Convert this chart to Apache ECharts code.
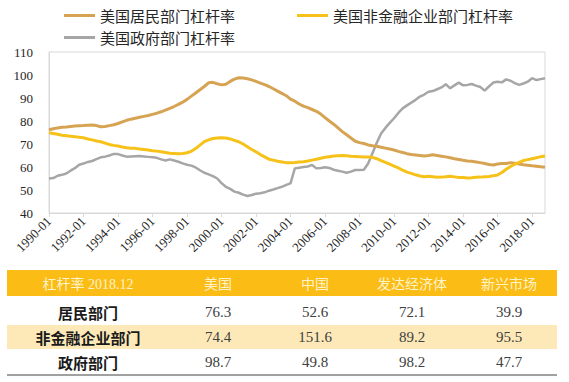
<!DOCTYPE html>
<html>
<head>
<meta charset="utf-8">
<script src="https://cdn.jsdelivr.net/npm/echarts@6/dist/echarts.min.js"></script>
<style>
  html, body { margin: 0; padding: 0; background: #ffffff; }
  #chart { width: 569px; height: 382px; }
</style>
</head>
<body>
<div id="chart"></div>
<script>
// ---- data ----
const startYear = 1990;
const endYear = 2018;
const quarterMonths = ['01', '04', '07', '10'];

const seriesNames = ['美国居民部门杠杆率', '美国非金融企业部门杠杆率', '美国政府部门杠杆率'];

// 美国居民部门杠杆率 (quarterly, 1990Q1 - 2018Q4)
const householdLeverage = [
  76.2, 76.6, 77.0, 77.3,
  77.4, 77.6, 77.8, 77.9,
  78.0, 78.2, 78.3, 78.0,
  77.5, 77.6, 78.0, 78.4,
  78.9, 79.6, 80.3, 80.8,
  81.2, 81.6, 82.0, 82.4,
  82.9, 83.4, 84.0, 84.7,
  85.5, 86.3, 87.2, 88.2,
  89.4, 90.8, 92.2, 93.6,
  95.0, 96.6, 96.8, 96.2,
  95.7, 96.0, 97.2, 98.2,
  98.8, 98.7, 98.4, 97.9,
  97.2, 96.5, 95.8, 95.0,
  94.0, 93.0, 92.0, 91.0,
  89.5, 88.6, 87.4, 86.5,
  85.8, 85.0, 84.2, 83.0,
  81.5, 80.0, 78.6, 77.0,
  75.4, 74.0, 72.6, 71.2,
  70.6, 70.2, 69.6, 69.2,
  69.0, 68.6, 68.2, 67.8,
  67.4, 66.8, 66.3, 65.8,
  65.4, 65.2, 65.0, 64.8,
  65.0, 65.3, 65.0, 64.7,
  64.4, 64.0, 63.6, 63.3,
  62.9, 62.6, 62.5, 62.2,
  61.9, 61.5, 61.1, 60.9,
  61.3, 61.5, 61.5, 61.9,
  61.6, 61.3, 61.0, 60.8,
  60.5, 60.3, 60.1, 59.9
];

// 美国非金融企业部门杠杆率
const corporateLeverage = [
  74.9, 74.6, 74.2, 73.8,
  73.6, 73.4, 73.2, 72.9,
  72.7, 72.2, 71.8, 71.3,
  71.0, 70.4, 69.8, 69.4,
  69.1, 68.7, 68.4, 68.2,
  68.1, 67.8, 67.6, 67.4,
  67.1, 66.9, 66.6, 66.3,
  66.0, 65.9, 65.8, 65.9,
  66.2, 66.8, 68.0, 69.5,
  71.0, 71.8, 72.4, 72.6,
  72.7, 72.6, 72.2, 71.6,
  71.0, 70.0, 68.8, 67.6,
  66.6, 65.4, 64.4, 63.4,
  63.0, 62.5, 62.2, 61.9,
  61.9, 62.0, 62.2, 62.3,
  62.6, 63.0, 63.4, 63.8,
  64.2, 64.5, 64.8, 64.9,
  65.0, 64.9, 64.7, 64.6,
  64.5, 64.4, 64.3, 64.2,
  63.6, 62.8, 62.0, 61.2,
  60.4, 59.6, 58.6, 57.8,
  57.2, 56.6, 56.1, 55.8,
  56.0, 55.8, 55.5, 55.6,
  55.8, 56.0, 55.7, 55.4,
  55.4, 55.2, 55.3, 55.5,
  55.6, 55.8, 55.9, 56.2,
  56.5, 57.6, 59.0, 60.2,
  61.2, 62.0, 62.8, 63.2,
  63.6, 64.0, 64.5, 64.8
];

// 美国政府部门杠杆率
const governmentLeverage = [
  55.0, 55.2, 56.2, 56.6,
  57.2, 58.4, 59.5, 61.0,
  61.5, 62.2, 62.6, 63.4,
  64.2, 64.5, 65.0, 65.7,
  65.6, 65.0, 64.5, 64.6,
  64.7, 64.8, 64.6, 64.4,
  64.2, 64.0, 63.3, 62.8,
  63.3, 62.8, 62.3, 61.6,
  61.0, 60.6, 59.8, 58.6,
  57.5, 56.8, 56.0, 55.0,
  53.0, 51.4, 50.5, 49.3,
  48.8, 48.0, 47.4, 47.8,
  48.4, 48.6, 49.0, 49.7,
  50.2, 50.8, 51.4, 52.2,
  52.9, 59.4, 59.7, 60.0,
  60.2, 60.9, 59.4, 59.6,
  59.9, 59.6, 58.8, 58.4,
  58.0, 57.5, 58.0, 58.7,
  58.7, 58.8, 61.5, 66.0,
  70.5, 74.6, 77.0, 79.2,
  81.2, 83.5, 85.5, 86.8,
  88.0, 89.2, 90.6, 91.5,
  92.7, 93.0, 93.8, 94.6,
  96.0, 94.2, 95.5, 96.7,
  95.5, 95.7, 96.1, 95.4,
  94.8, 93.2, 95.0, 96.7,
  97.1, 96.8, 98.1, 97.5,
  96.5, 95.7, 96.3, 97.1,
  98.6, 97.8, 98.2, 98.6
];

const yTicks = [40, 50, 60, 70, 80, 90, 100, 110];

// table data
const tableHeader = ['杠杆率 2018.12', '美国', '中国', '发达经济体', '新兴市场'];
const tableRowLabels = ['居民部门', '非金融企业部门', '政府部门'];
const tableUS = [76.3, 74.4, 98.7];
const tableChina = [52.6, 151.6, 49.8];
const tableDeveloped = [72.1, 89.2, 98.2];
const tableEmerging = [39.9, 95.5, 47.7];

// ---- build ----
const categories = [];
for (let y = startYear; y <= endYear; y++) {
  for (const m of quarterMonths) categories.push(y + '-' + m);
}

const colors = ['#D6A352', '#F6C21A', '#A6A6A6'];
const serifFont = "'Liberation Serif', 'Noto Sans CJK SC', serif";
const cjkFont = "'Noto Sans CJK SC', sans-serif";

// table graphic
const colX = [88, 218, 315, 412, 509];
const rowY = [312, 337, 362];
const tableLeft = 7, tableRight = 557;
const graphics = [];
graphics.push({ type: 'rect', silent: true, shape: { x: tableLeft, y: 270, width: tableRight - tableLeft, height: 26 }, style: { fill: '#FBBC16' } });
graphics.push({ type: 'rect', silent: true, shape: { x: tableLeft, y: 325, width: tableRight - tableLeft, height: 24 }, style: { fill: '#FDE9B8' } });
graphics.push({ type: 'line', silent: true, shape: { x1: tableLeft, y1: 375, x2: tableRight, y2: 375 }, style: { stroke: '#A0A0A0', lineWidth: 2 } });
tableHeader.forEach((t, i) => {
  graphics.push({ type: 'text', silent: true, style: { text: t, x: colX[i], y: 284, textAlign: 'center', textVerticalAlign: 'middle', fill: '#FFF3C8', font: '14px ' + serifFont } });
});
const tableCols = [tableUS, tableChina, tableDeveloped, tableEmerging];
tableRowLabels.forEach((label, r) => {
  graphics.push({ type: 'text', silent: true, style: { text: label, x: colX[0], y: rowY[r], textAlign: 'center', textVerticalAlign: 'middle', fill: '#1A1A1A', font: 'bold 15px ' + cjkFont } });
  tableCols.forEach((col, c) => {
    graphics.push({ type: 'text', silent: true, style: { text: col[r].toFixed(1), x: colX[c + 1], y: rowY[r], textAlign: 'center', textVerticalAlign: 'middle', fill: '#404040', font: '15px ' + serifFont } });
  });
});

const legendCommon = {
  icon: 'rect', itemWidth: 31, itemHeight: 3,
  textStyle: { fontFamily: cjkFont, fontSize: 15, color: '#262626' }
};

const chart = echarts.init(document.getElementById('chart'), null, { renderer: 'svg' });
chart.setOption({
  animation: false,
  color: colors,
  legend: [
    Object.assign({ data: [seriesNames[0], seriesNames[1]], left: 59, top: 3, itemGap: 62 }, legendCommon),
    Object.assign({ data: [seriesNames[2]], left: 59, top: 25 }, legendCommon)
  ],
  grid: {
    left: 49, right: 24, top: 52, bottom: 169,
    show: true, borderColor: '#D9D9D9', borderWidth: 1, containLabel: false
  },
  xAxis: {
    type: 'category',
    boundaryGap: false,
    data: categories,
    axisLine: { lineStyle: { color: '#D9D9D9' } },
    axisTick: { interval: 7, length: 4, lineStyle: { color: '#D9D9D9' } },
    axisLabel: { interval: 7, rotate: 45, margin: 6, color: '#262626', fontFamily: serifFont, fontSize: 13 }
  },
  yAxis: {
    type: 'value',
    min: yTicks[0], max: yTicks[yTicks.length - 1], interval: 10,
    splitLine: { show: false },
    axisLine: { show: true, lineStyle: { color: '#D9D9D9' } },
    axisTick: { show: false },
    axisLabel: { margin: 16, color: '#262626', fontFamily: serifFont, fontSize: 13 }
  },
  series: [
    { name: seriesNames[0], type: 'line', data: householdLeverage, symbol: 'none', lineStyle: { width: 3, color: colors[0] }, z: 3 },
    { name: seriesNames[1], type: 'line', data: corporateLeverage, symbol: 'none', lineStyle: { width: 3, color: colors[1] }, z: 4 },
    { name: seriesNames[2], type: 'line', data: governmentLeverage, symbol: 'none', lineStyle: { width: 2.5, color: colors[2] }, z: 2 }
  ],
  graphic: graphics
});
</script>
</body>
</html>
